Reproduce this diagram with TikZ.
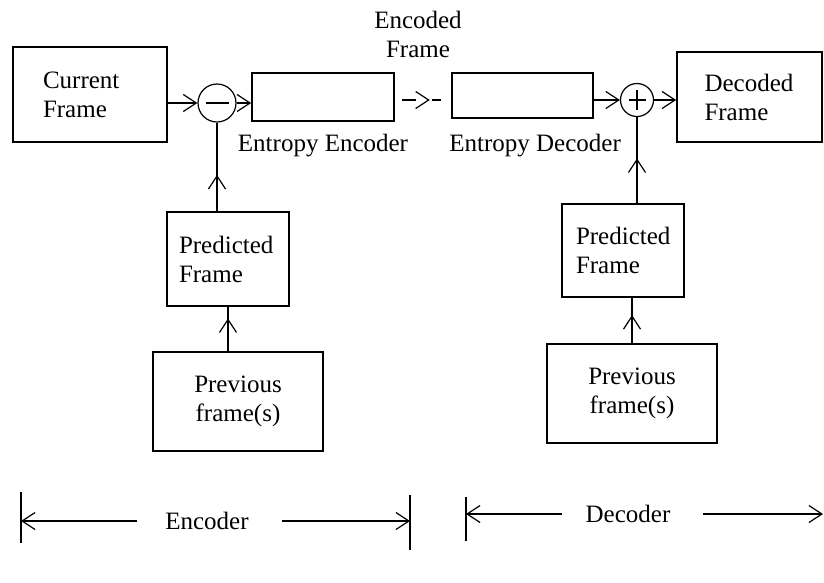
\documentclass[tikz,border=0pt]{standalone}
\usepackage{fontspec}
\setmainfont{Liberation Serif}
\usetikzlibrary{arrows.meta,positioning,decorations.markings}
\tikzset{
  framebox/.style={draw=black, line width=1.7pt, align=left, inner ysep=0pt},
  sumnode/.style={circle, draw=black, line width=1.2pt, inner sep=0pt},
  minussign/.style={path picture={\draw[line width=1.6pt] ([xshift=-11.5pt]path picture bounding box.center) -- ([xshift=11.5pt]path picture bounding box.center);}},
  plussign/.style={path picture={\draw[line width=1.6pt] ([xshift=-8.5pt]path picture bounding box.center) -- ([xshift=8.5pt]path picture bounding box.center) ([yshift=-10pt]path picture bounding box.center) -- ([yshift=10pt]path picture bounding box.center);}},
  tag/.style={inner sep=0pt, align=center},
  wire/.style={line width=1.5pt, draw=black, -{Straight Barb[length=13pt,width=17pt,line width=1.2pt]}},
  bar/.style={line width=1.7pt, draw=black},
  midtip/.style={line width=1.5pt, draw=black, postaction={decorate}, decoration={markings, mark=at position #1 with {\arrow{Straight Barb[length=13pt,width=17pt,line width=1.2pt]}}}},
}

\begin{document}
\begin{tikzpicture}[x=1pt, y=-1pt, font=\fontsize{25}{29}\selectfont]
\useasboundingbox (0,0) rectangle (824,582);
\node[framebox, text width=94pt, inner xsep=30pt, minimum height=95pt] (cur) at (90,94.5) {Current\\Frame};
\node[sumnode, minussign, minimum size=38pt] (minus) at (217,103) {};
\node[framebox, minimum width=142pt, minimum height=48pt] (ee) at (323,97) {};
\node[tag, below=12pt of ee] (eelab) {Entropy Encoder};
\node[framebox, minimum width=141pt, minimum height=45pt] (ed) at (522.5,95.5) {};
\node[tag, anchor=north west, xshift=-2pt] (edlab) at (eelab.north -| ed.west) {Entropy Decoder};
\node[sumnode, plussign, minimum size=33pt] (plus) at (637,100) {};
\node[framebox, text width=90pt, inner xsep=27.5pt, minimum height=90pt] (dec) at (749.5,97) {Decoded\\Frame};
\node[tag] (encfr) at (418,34) {Encoded\\Frame};
\node[framebox, text width=98pt, inner xsep=12pt, minimum height=94pt] (pred1) at (228,259) {Predicted\\Frame};
\node[framebox, align=center, text width=130pt, inner xsep=20pt, minimum height=99pt] (prev1) at (238,401.5) {Previous\\frame(s)};
\node[framebox, text width=94pt, inner xsep=14pt, minimum height=93pt] (pred2) at (623,250.5) {Predicted\\Frame};
\node[framebox, align=center, text width=130pt, inner xsep=20pt, minimum height=99pt] (prev2) at (632,393.5) {Previous\\frame(s)};

\draw[wire] (cur.east |- minus) -- (minus.west);
\draw[wire] (minus.east) -- (ee.west |- minus);
\draw[midtip=0.41] (minus |- pred1.north) -- (minus.south);
\draw[midtip=0.74] (pred1.south |- prev1.north) -- (pred1.south);
\draw[midtip=0.62, dash pattern=on 14pt off 16pt on 11pt off 20pt, shorten <=7pt, shorten >=10pt] (ee.east |- plus) -- (ed.west |- plus);
\draw[wire] (ed.east |- plus) -- (plus.west);
\draw[wire] (plus.east) -- (dec.west |- plus);
\draw[midtip=0.52] (plus |- pred2.north) -- (plus.south);
\draw[midtip=0.62] (prev2.north) -- (prev2.north |- pred2.south);

\coordinate (encA) at (21,492);
\coordinate (encB) at (21,543);
\coordinate (encC) at (410,495);
\coordinate (encD) at (410,550);
\coordinate (decA) at (466,497);
\coordinate (decB) at (466,541);
\coordinate (decE) at (823,512);
\draw[bar] (encA) -- (encB);
\draw[bar] (encC) -- (encD);
\draw[bar] (decA) -- (decB);
\node[tag] (enc) at (207,521) {Encoder};
\node[tag] (dcd) at (628,514) {Decoder};
\draw[wire, shorten <=28.5pt] (enc.west) -- (enc.west -| encA);
\draw[wire, shorten <=33.5pt] (enc.east) -- (enc.east -| encC);
\draw[wire, shorten <=23.5pt] (dcd.west) -- (dcd.west -| decA);
\draw[wire, shorten <=32.5pt] (dcd.east) -- (dcd.east -| decE);
\end{tikzpicture}
\end{document}
